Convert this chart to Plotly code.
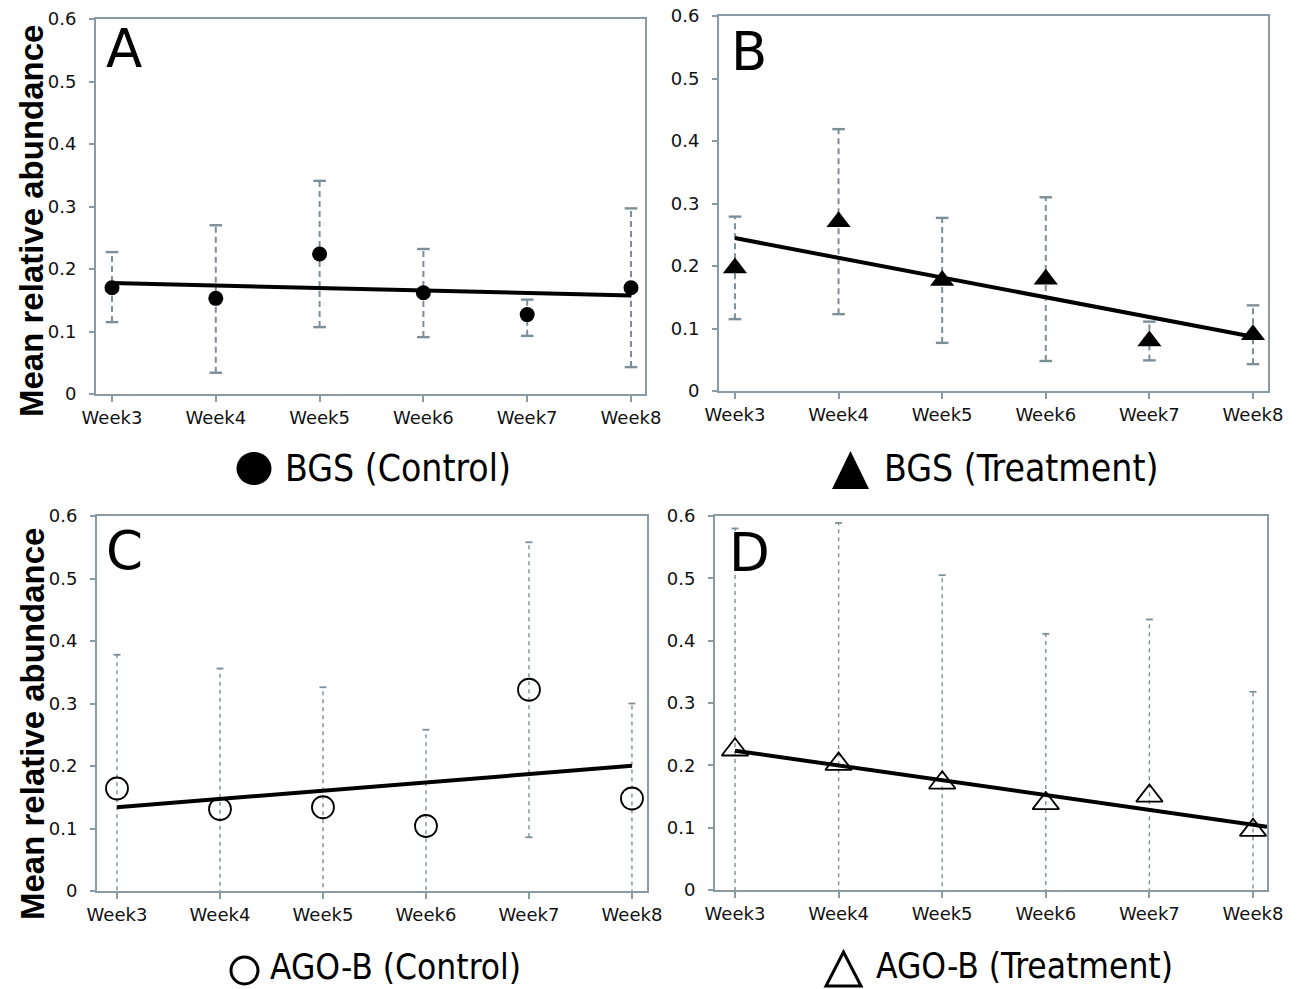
import numpy as np
import plotly.graph_objects as go

# ---------------- data ----------------
weeks = ["Week3", "Week4", "Week5", "Week6", "Week7", "Week8"]

bgs_control_mean = [0.170, 0.153, 0.224, 0.162, 0.127, 0.170]
bgs_control_err_plus = [0.057, 0.117, 0.117, 0.070, 0.024, 0.127]
bgs_control_err_minus = [0.055, 0.119, 0.117, 0.071, 0.034, 0.127]

bgs_treat_mean = [0.197, 0.271, 0.177, 0.179, 0.080, 0.090]
bgs_treat_err = [0.082, 0.148, 0.100, 0.131, 0.031, 0.047]

ago_control_mean = [0.164, 0.131, 0.134, 0.104, 0.322, 0.148]
ago_control_err = [0.214, 0.225, 0.192, 0.154, 0.236, 0.152]

ago_treat_mean = [0.225, 0.202, 0.172, 0.139, 0.151, 0.096]
ago_treat_err = [0.355, 0.387, 0.333, 0.272, 0.283, 0.222]

panel_letters = ["A", "B", "C", "D"]
captions = ["BGS (Control)", "BGS (Treatment)", "AGO-B (Control)", "AGO-B (Treatment)"]
y_title = "Mean relative abundance"

# ---------------- layout geometry ----------------
W, H = 1303, 989
FRAME = "#8a9ba3"
ERRC = "#7e8e96"
TICKFONT = dict(family="DejaVu Sans", size=18, color="#111111")


def xdom(a, b):
    return [a / W, b / W]


def ydom(top, bot):
    return [1 - bot / H, 1 - top / H]


def px(x):
    return x / W


def py(y):
    return 1 - y / H


panels = [
    dict(mean=bgs_control_mean, ep=bgs_control_err_plus, em=bgs_control_err_minus,
         xpx=(96, 645), ypx=(19, 394), xr=(-0.154, 5.135),
         symbol="circle", msize=15, mline=0,
         edash="6px,4px", ew=2.0, capsize=9, extend=False),
    dict(mean=bgs_treat_mean, ep=bgs_treat_err, em=bgs_treat_err,
         xpx=(719, 1268), ypx=(16, 391), xr=(-0.154, 5.145),
         symbol="triangle-up", msize=21, mline=0,
         edash="6px,4px", ew=2.0, capsize=9, extend=False),
    dict(mean=ago_control_mean, ep=ago_control_err, em=ago_control_err,
         xpx=(97, 647), ypx=(516, 891), xr=(-0.194, 5.146),
         symbol="circle-open", msize=22, mline=1.8,
         edash="4px,4px", ew=1.4, capsize=5, extend=False),
    dict(mean=ago_treat_mean, ep=ago_treat_err, em=ago_treat_err,
         xpx=(715, 1267), ypx=(516, 890), xr=(-0.193, 5.135),
         symbol="triangle-up-open", msize=23, mline=1.8,
         edash="4px,4px", ew=1.4, capsize=5, extend=True),
]

fig = go.Figure()
x_idx = list(range(len(weeks)))

for i, p in enumerate(panels):
    n = i + 1
    xa = "x" if n == 1 else f"x{n}"
    ya = "y" if n == 1 else f"y{n}"
    mean = np.array(p["mean"])
    hi = mean + np.array(p["ep"])
    lo = mean - np.array(p["em"])

    # dashed error bars
    ex, ey = [], []
    for k in x_idx:
        ex += [k, k, None]
        ey += [lo[k], hi[k], None]
    fig.add_trace(go.Scatter(x=ex, y=ey, mode="lines", xaxis=xa, yaxis=ya,
                             line=dict(color=ERRC, width=p["ew"], dash=p["edash"]),
                             showlegend=False, hoverinfo="skip"))
    # caps
    fig.add_trace(go.Scatter(x=x_idx + x_idx, y=list(hi) + list(lo), mode="markers",
                             xaxis=xa, yaxis=ya,
                             marker=dict(symbol="line-ew", size=p["capsize"],
                                         line=dict(color=ERRC, width=p["ew"] + 0.4)),
                             showlegend=False, hoverinfo="skip"))
    # means
    if "open" in p["symbol"]:
        mk = dict(symbol=p["symbol"], size=p["msize"], color="black",
                  line=dict(color="black", width=p["mline"]))
    else:
        mk = dict(symbol=p["symbol"], size=p["msize"], color="black")
    fig.add_trace(go.Scatter(x=x_idx, y=mean, mode="markers", xaxis=xa, yaxis=ya,
                             marker=mk, showlegend=False))
    # linear trend line (least squares fit of the means)
    slope, icpt = np.polyfit(x_idx, mean, 1)
    x_end = p["xr"][1] if p["extend"] else x_idx[-1]
    tx = [x_idx[0], x_end]
    fig.add_trace(go.Scatter(x=tx, y=[icpt + slope * t for t in tx], mode="lines",
                             xaxis=xa, yaxis=ya,
                             line=dict(color="black", width=4),
                             showlegend=False, hoverinfo="skip"))

    axx = dict(domain=xdom(*p["xpx"]), range=list(p["xr"]), anchor=ya,
               tickmode="array", tickvals=x_idx, ticktext=weeks,
               showline=True, mirror=True, linecolor=FRAME, linewidth=2,
               ticks="outside", ticklen=6, tickcolor=FRAME, tickwidth=1.5,
               showgrid=False, zeroline=False, tickfont=TICKFONT, automargin=False)
    axy = dict(domain=ydom(*p["ypx"]), range=[0, 0.6], anchor=xa,
               tickmode="linear", tick0=0, dtick=0.1,
               showline=True, mirror=True, linecolor=FRAME, linewidth=2,
               ticks="outside", ticklen=5, tickcolor=FRAME, tickwidth=1.5,
               ticklabelstandoff=9, automargin=False,
               showgrid=False, zeroline=False, tickfont=TICKFONT)
    fig.layout[f"xaxis{'' if n == 1 else n}"] = axx
    fig.layout[f"yaxis{'' if n == 1 else n}"] = axy

annotations = []
# panel letters
letter_pos = [(104, 16), (729, 19), (104, 518), (727, 520)]
for L, (lx, ly) in zip(panel_letters, letter_pos):
    annotations.append(dict(text=L, x=px(lx), y=py(ly), xref="paper", yref="paper",
                            xanchor="left", yanchor="top", showarrow=False,
                            font=dict(family="DejaVu Sans", size=53, color="black")))
# y-axis titles
for cy in (221, 724):
    annotations.append(dict(text=f"<b>{y_title}</b>", x=px(32), y=py(cy), xref="paper",
                            yref="paper", xanchor="center", yanchor="middle",
                            textangle=-90, showarrow=False,
                            font=dict(family="Liberation Sans", size=33, color="black")))
# captions
cap_pos = [(283, 468), (882, 468), (268, 967), (874, 966)]
cap_size = [37, 37, 35, 35]
for txt, (cx, cy), fs in zip(captions, cap_pos, cap_size):
    annotations.append(dict(text=txt, x=px(cx), y=py(cy), xref="paper", yref="paper",
                            xanchor="left", yanchor="middle", showarrow=False,
                            font=dict(family="DejaVu Sans Condensed, DejaVu Sans", size=fs,
                                      color="black")))

shapes = [
    dict(type="circle", xref="paper", yref="paper",
         x0=px(236.5), x1=px(271.5), y0=py(485), y1=py(452),
         fillcolor="black", line=dict(color="black", width=0)),
    dict(type="path", xref="paper", yref="paper",
         path=f"M {px(832)} {py(489)} L {px(869)} {py(489)} L {px(850.5)} {py(451)} Z",
         fillcolor="black", line=dict(color="black", width=0)),
    dict(type="circle", xref="paper", yref="paper",
         x0=px(231), x1=px(258), y0=py(984), y1=py(957),
         fillcolor="rgba(0,0,0,0)", line=dict(color="black", width=3)),
    dict(type="path", xref="paper", yref="paper",
         path=f"M {px(826)} {py(986)} L {px(861)} {py(986)} L {px(843.5)} {py(952)} Z",
         fillcolor="rgba(0,0,0,0)", line=dict(color="black", width=3)),
]

fig.update_layout(width=W, height=H, autosize=False,
                  margin=dict(l=0, r=0, t=0, b=0, pad=0, autoexpand=False),
                  paper_bgcolor="white", plot_bgcolor="white",
                  annotations=annotations, shapes=shapes, showlegend=False)

fig.write_html("out.html", config={"displayModeBar": False},
               post_script="document.body.style.margin='0';document.body.style.padding='0';")
